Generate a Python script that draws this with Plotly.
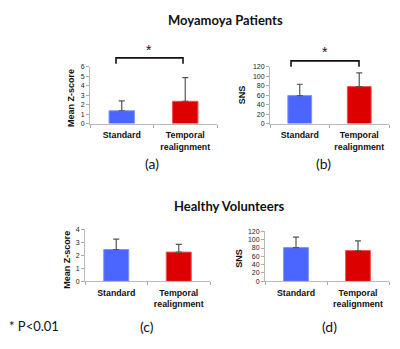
import plotly.graph_objects as go

categories = ["Standard", "Temporal<br>realignment"]

# Moyamoya patients
moya_z = [1.35, 2.35]
moya_z_err = [1.05, 2.5]
moya_sns = [59, 78]
moya_sns_err = [24, 29]

# Healthy volunteers
healthy_z = [2.45, 2.25]
healthy_z_err = [0.8, 0.6]
healthy_sns = [81, 74]
healthy_sns_err = [25, 23]

bar_colors = ["#4a66ff", "#dd0000"]
line_colors = ["#7d93ff", "#ee5555"]

W, H = 400, 349

def px(x):
    return x / W

def py(y):
    return 1 - y / H

fig = go.Figure()

panels = [
    (moya_z, moya_z_err, 1, (90, 217), (122, 64), [0, 6], 1),
    (moya_sns, moya_sns_err, 2, (270, 389), (122, 64), [0, 120], 20),
    (healthy_z, healthy_z_err, 3, (85, 210), (283, 230), [0, 4], 1),
    (healthy_sns, healthy_sns_err, 4, (265, 389), (283, 232), [0, 120], 20),
]

for vals, err, i, xd, yd, yr, dt in panels:
    xa = "x" if i == 1 else f"x{i}"
    ya = "y" if i == 1 else f"y{i}"
    fig.add_trace(go.Bar(
        x=categories, y=vals, xaxis=xa, yaxis=ya,
        width=0.4,
        marker=dict(color=bar_colors, line=dict(color=line_colors, width=1)),
        error_y=dict(type="data", symmetric=False, array=err,
                     arrayminus=[0] * len(err), color="#555555",
                     thickness=1.2, width=3),
        showlegend=False,
    ))
    kx = "xaxis" if i == 1 else f"xaxis{i}"
    ky = "yaxis" if i == 1 else f"yaxis{i}"
    fig.layout[kx] = dict(
        domain=[px(xd[0]), px(xd[1])], anchor=ya, type="category",
        range=[-0.5, 1.5], showline=True, linecolor="#bbbbbb", linewidth=1,
        ticks="outside", tickson="boundaries", ticklen=3, tickcolor="#aaaaaa",
        tickangle=0, ticklabelstandoff=3,
        tickfont=dict(family="Liberation Sans", size=8.8, color="#111111",
                      weight="bold"),
        showgrid=False, zeroline=False, fixedrange=True,
    )
    fig.layout[ky] = dict(
        domain=[py(yd[0]), py(yd[1])], anchor=xa, range=yr, dtick=dt,
        showline=True, linecolor="#bbbbbb", linewidth=1,
        ticks="outside", ticklen=3, tickcolor="#aaaaaa",
        tickfont=dict(family="Liberation Sans", size=7, color="#222222"),
        showgrid=False, zeroline=False, fixedrange=True,
    )

title_font = dict(family="Lato", size=13, color="#111111", weight="bold")
label_font = dict(family="Lato", size=14, color="#111111")
ylab_font = dict(family="Liberation Sans", size=9, color="#111111", weight="bold")

annotations = [
    dict(text="Moyamoya Patients", x=px(225), y=py(16), font=title_font),
    dict(text="Healthy Volunteers", x=px(230), y=py(206), font=title_font),
    dict(text="(a)", x=px(152), y=py(163), font=label_font),
    dict(text="(b)", x=px(323), y=py(163), font=label_font),
    dict(text="(c)", x=px(147), y=py(329), font=label_font),
    dict(text="(d)", x=px(329), y=py(329), font=label_font),
    dict(text="* P<0.01", x=px(34), y=py(329), font=dict(family="Lato", size=13, color="#111111")),
    dict(text="Mean Z-score", x=px(71), y=py(96), textangle=-90, font=ylab_font),
    dict(text="SNS", x=px(242), y=py(93), textangle=-90, font=ylab_font),
    dict(text="Mean Z-score", x=px(67), y=py(261), textangle=-90, font=ylab_font),
    dict(text="SNS", x=px(239), y=py(260), textangle=-90, font=ylab_font),
    dict(text="*", x=px(149), y=py(47), font=dict(family="Liberation Sans", size=14, color="#111111")),
    dict(text="*", x=px(325), y=py(49), font=dict(family="Liberation Sans", size=14, color="#111111")),
]
for a in annotations:
    a.update(xref="paper", yref="paper", showarrow=False, xanchor="center", yanchor="middle")
fig.update_layout(annotations=annotations)

def bracket(x0, x1, ytop, ybot):
    return dict(type="path", xref="paper", yref="paper",
                path=f"M {px(x0)},{py(ybot)} L {px(x0)},{py(ytop)} L {px(x1)},{py(ytop)} L {px(x1)},{py(ybot)}",
                line=dict(color="#111111", width=1.6))

fig.update_layout(shapes=[bracket(116, 183, 55, 61), bracket(291, 359, 58, 64)])

fig.update_layout(
    width=W, height=H, margin=dict(l=0, r=0, t=0, b=0),
    paper_bgcolor="white", plot_bgcolor="white",
    bargap=0.6,
)

fig.write_html("out.html", config={"displayModeBar": False},
               post_script="document.body.style.margin='0';document.body.style.overflow='hidden';")
